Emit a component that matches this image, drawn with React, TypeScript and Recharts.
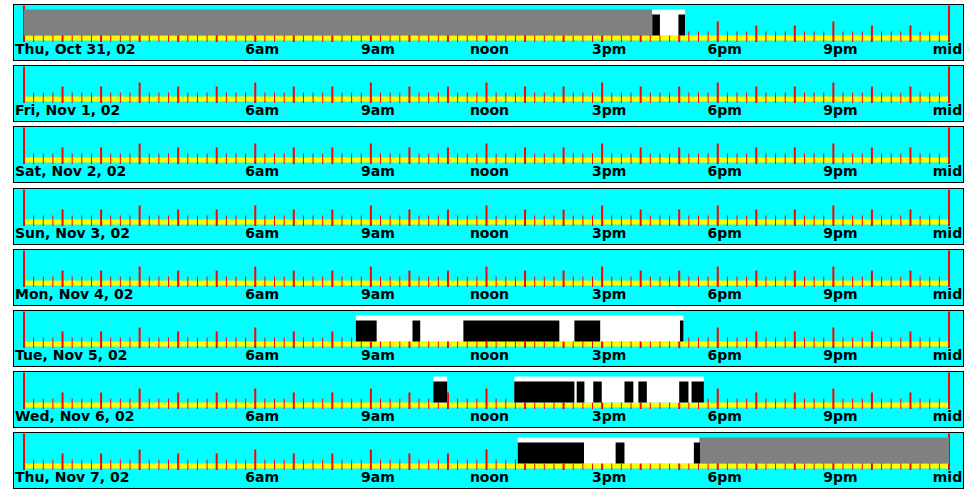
import React from 'react';
import { ComposedChart, XAxis, YAxis, ReferenceArea, Scatter } from 'recharts';

const dayNames = [
  'Thu, Oct 31, 02',
  'Fri, Nov 1, 02',
  'Sat, Nov 2, 02',
  'Sun, Nov 3, 02',
  'Mon, Nov 4, 02',
  'Tue, Nov 5, 02',
  'Wed, Nov 6, 02',
  'Thu, Nov 7, 02',
];

const labelHours = [6, 9, 12, 15, 18, 21, 24];
const hourLabels = ['6am', '9am', 'noon', '3pm', '6pm', '9pm', 'mid'];

// [day, start hour, end hour]
const grayBlocks = [
  [0, 0, 16.3],
  [7, 17.52, 24],
];

const whiteBlocks = [
  [0, 16.3, 17.15],
  [5, 8.61, 17.11],
  [6, 10.62, 10.98],
  [6, 12.72, 17.64],
  [7, 12.81, 17.52],
];

const blackBlocks = [
  [0, 16.3, 16.5],
  [0, 16.98, 17.15],
  [5, 8.61, 9.15],
  [5, 10.08, 10.28],
  [5, 11.4, 13.89],
  [5, 14.28, 14.95],
  [5, 17.02, 17.11],
  [6, 10.62, 10.98],
  [6, 12.72, 14.28],
  [6, 14.34, 14.54],
  [6, 14.77, 14.99],
  [6, 15.58, 15.81],
  [6, 15.94, 16.16],
  [6, 17.0, 17.24],
  [6, 17.32, 17.64],
  [7, 12.81, 14.53],
  [7, 15.35, 15.58],
  [7, 17.38, 17.54],
];

// a tick every quarter hour
const tickData = Array.from({ length: 97 }, (_, i) => ({ h: i / 4 }));

const FONT = '"DejaVu Sans", sans-serif';
const BAND_TOP = 30.5;
const BAND_BOTTOM = 35.5;
const TICK_BOTTOM = 37;

function tickLen(h: number) {
  if (h === 0 || h === 24) return 36.5;
  if (h % 3 === 0) return 20.5;
  if (h % 1 === 0) return 16.5;
  return 10.5;
}

function TickMark(props: any) {
  const { cx, cy, payload } = props;
  const h = payload.h;
  const w = h % 1 === 0 ? 2 : 1;
  return <rect x={cx - w / 2} y={cy - tickLen(h)} width={w} height={tickLen(h)} fill="#ff0000" />;
}

function HourTick(props: any) {
  const { x, payload, name } = props;
  const v = payload.value;
  if (v === 0) {
    return (
      <text x={x - 9} y={49} fontFamily={FONT} fontWeight="bold" fontSize={14} fill="#000" textAnchor="start">
        {name}
      </text>
    );
  }
  const label = hourLabels[labelHours.indexOf(v)];
  let dx = 7;
  if (label === 'noon') dx = 3;
  if (label === 'mid') dx = -1.5;
  return (
    <text x={x + dx} y={49} fontFamily={FONT} fontWeight="bold" fontSize={14} fill="#000" textAnchor="middle">
      {label}
    </text>
  );
}

function DayPanel({ day, top }: { day: number; top: number }) {
  const blocks = (list: number[][], fill: string, y1: number, z: number) =>
    list
      .filter((b) => b[0] === day)
      .map((b, i) => (
        <ReferenceArea
          key={fill + i}
          x1={b[1]}
          x2={b[2]}
          y1={y1}
          y2={BAND_TOP}
          fill={fill}
          fillOpacity={1}
          stroke="none"
          ifOverflow="visible"
          zIndex={z}
        />
      ));

  return (
    <div
      style={{
        position: 'absolute',
        left: 13,
        top,
        width: 951,
        height: 57,
        boxSizing: 'border-box',
        border: '1px solid #000',
        background: '#00ffff',
      }}
    >
      <ComposedChart width={949} height={55} data={tickData} margin={{ top: 0, right: 14, bottom: 0, left: 10 }}>
        <XAxis
          type="number"
          dataKey="h"
          domain={[0, 24]}
          ticks={[0, ...labelHours]}
          interval={0}
          mirror
          axisLine={false}
          tickLine={false}
          tick={(p: any) => <HourTick {...p} name={dayNames[day]} />}
        />
        <YAxis type="number" domain={[0, 55]} reversed hide allowDataOverflow />
        <ReferenceArea
          x1={0}
          x2={24}
          y1={BAND_TOP}
          y2={BAND_BOTTOM}
          fill="#ffff00"
          fillOpacity={1}
          stroke="none"
          ifOverflow="visible"
          zIndex={100}
        />
        <Scatter dataKey={() => TICK_BOTTOM} shape={TickMark} isAnimationActive={false} zIndex={200} />
        {blocks(grayBlocks, '#808080', 4.5, 800)}
        {blocks(whiteBlocks, '#ffffff', 4.5, 810)}
        {blocks(blackBlocks, '#000000', 9.5, 820)}
      </ComposedChart>
    </div>
  );
}

export default function App() {
  return (
    <div style={{ position: 'absolute', left: 0, top: 0, width: 973, height: 493, background: '#fff' }}>
      {dayNames.map((_, d) => (
        <DayPanel key={d} day={d} top={Math.round(4 + d * 61.2)} />
      ))}
    </div>
  );
}
